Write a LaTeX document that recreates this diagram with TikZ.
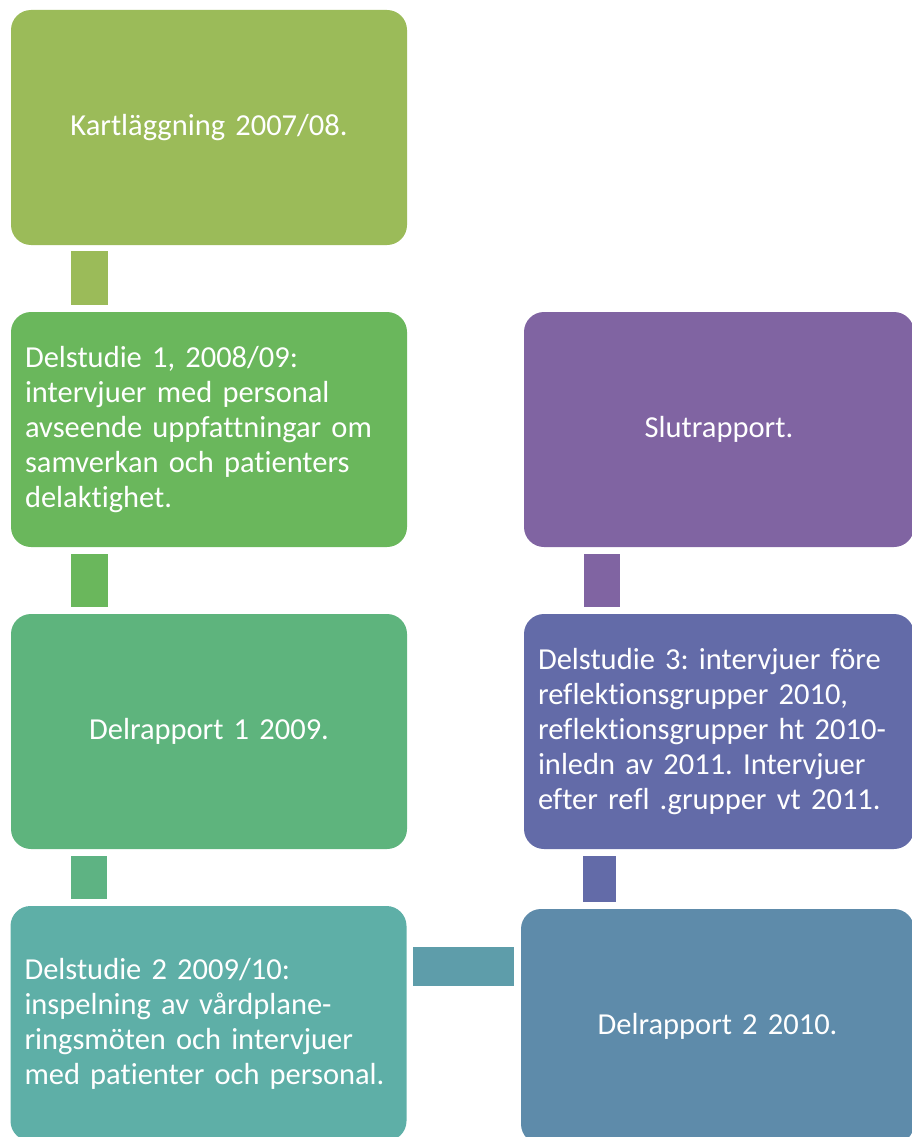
\documentclass[tikz,border=0pt]{standalone}
\usepackage{fontspec}
\setmainfont[Ligatures=NoCommon]{Carlito}
\usepackage{tikz}
\definecolor{kgreen}{RGB}{155,187,89}
\definecolor{dgreen}{RGB}{106,183,92}
\definecolor{mgreen}{RGB}{94,180,125}
\definecolor{teal}{RGB}{94,175,167}
\definecolor{tblue}{RGB}{94,157,170}
\definecolor{sblue}{RGB}{94,139,170}
\definecolor{indig}{RGB}{99,107,168}
\definecolor{purp}{RGB}{128,100,162}
\frenchspacing
\tikzset{
  blocknode/.style = {rectangle, rounded corners=20pt, inner sep=14pt,
    text=white, font=\fontsize{30.5}{35}\selectfont,
    minimum height=235pt, text width=368pt},
  blk_c/.style = {blocknode, align=center, fill=#1},% text centred
  blk_l/.style = {blocknode, align=left, fill=#1}% text left
}
\begin{document}
\begin{tikzpicture}[x=1pt,y=-1pt]
  \useasboundingbox (0,0) rectangle (912,1137);
  \clip (0,0) rectangle (912,1137);
  \node [blk_c=kgreen] (b1) at (209,127.5) {Kartläggning 2007/08.};
  \node [blk_l=dgreen] (b2) at (209,429.5) {Delstudie 1, 2008/09:\\intervjuer med personal\\avseende uppfattningar om\\samverkan och patienters\\delaktighet.};
  \node [blk_c=mgreen] (b3) at (209,731.5) {Delrapport 1 2009.};
  \node [blk_l=teal] (b4) at (208.5,1023.5) {Delstudie 2 2009/10:\\inspelning av vårdplane-\\ringsmöten och intervjuer\\med patienter och personal.};
  \node [blk_c=sblue, text width=365pt] (b5) at (717.5,1026.5) {Delrapport 2 2010.};
  \node [blk_l=indig, text width=362pt] (b6) at (719,731.5) {Delstudie 3: intervjuer före\\reflektionsgrupper 2010,\\reflektionsgrupper ht 2010-\\inledn av 2011. Intervjuer\\efter refl .grupper vt 2011.};
  \node [blk_c=purp, text width=362pt] (b7) at (719,429.5) {Slutrapport.};

  % connectors
  \fill [kgreen] ([xshift=60pt,yshift=-6pt]b1.south west) rectangle ([xshift=97pt,yshift=7pt]b2.north west);
  \fill [dgreen] ([xshift=60pt,yshift=-7pt]b2.south west) rectangle ([xshift=97pt,yshift=7pt]b3.north west);
  \fill [mgreen!85!teal] ([xshift=60pt,yshift=-7pt]b3.south west) rectangle ([xshift=97pt,yshift=7pt]b4.north west);
  \fill [tblue] ([xshift=6pt,yshift=-41pt]b4.north east) rectangle ([xshift=-7pt,yshift=-77pt]b5.north west);
  \fill [indig] ([xshift=59pt,yshift=-7pt]b6.south west) rectangle ([xshift=95pt,yshift=7pt]b5.north west);
  \fill [purp] ([xshift=60pt,yshift=-7pt]b7.south west) rectangle ([xshift=96pt,yshift=7pt]b6.north west);
\end{tikzpicture}
\end{document}
